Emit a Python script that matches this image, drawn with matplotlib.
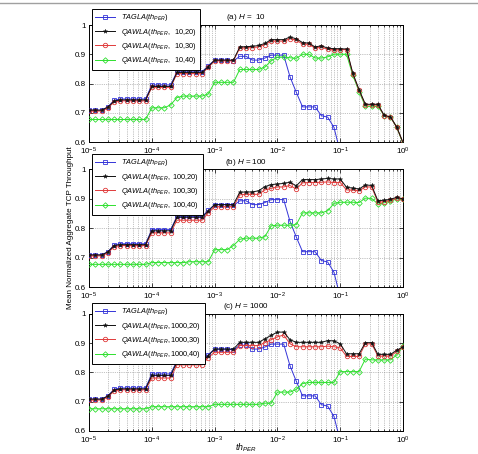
import numpy as np
import matplotlib
matplotlib.use('Agg')
import matplotlib.pyplot as plt
from matplotlib.lines import Line2D
from matplotlib.ticker import FixedLocator, FuncFormatter, LogLocator, NullFormatter

plt.rcParams['font.family'] = ['Liberation Sans', 'DejaVu Sans']
plt.rcParams['mathtext.fontset'] = 'custom'
plt.rcParams['mathtext.rm'] = 'Liberation Sans'
plt.rcParams['mathtext.it'] = 'Liberation Sans:italic'
plt.rcParams['mathtext.bf'] = 'Liberation Sans:bold'

nan = np.nan
th_per = np.logspace(-5, 0, 51)

tagla = [0.709, 0.709, 0.709, 0.720, 0.743, 0.747, 0.747, 0.747, 0.747, 0.747,
         0.795, 0.795, 0.795, 0.795, 0.840, 0.840, 0.840, 0.840, 0.840, 0.861,
         0.880, 0.880, 0.880, 0.877, 0.893, 0.893, 0.880, 0.880, 0.887, 0.897,
         0.897, 0.897, 0.823, 0.770, 0.720, 0.720, 0.720, 0.690, 0.685, 0.650,
         0.565, nan, nan, nan, nan, nan, nan, nan, nan, nan, nan]

# H = 10
q10_20 = [0.709, 0.709, 0.709, 0.719, 0.740, 0.744, 0.744, 0.744, 0.744, 0.744,
          0.790, 0.790, 0.790, 0.790, 0.838, 0.838, 0.838, 0.838, 0.838, 0.858,
          0.880, 0.880, 0.880, 0.880, 0.925, 0.926, 0.927, 0.930, 0.937, 0.950,
          0.950, 0.950, 0.959, 0.953, 0.940, 0.938, 0.925, 0.929, 0.921, 0.919,
          0.919, 0.918, 0.835, 0.779, 0.729, 0.729, 0.729, 0.691, 0.686, 0.651,
          0.598]
q10_30 = [0.706, 0.706, 0.706, 0.716, 0.737, 0.741, 0.741, 0.741, 0.741, 0.741,
          0.787, 0.787, 0.787, 0.787, 0.834, 0.834, 0.834, 0.834, 0.834, 0.855,
          0.878, 0.878, 0.878, 0.878, 0.921, 0.922, 0.923, 0.925, 0.933, 0.945,
          0.945, 0.945, 0.953, 0.948, 0.935, 0.934, 0.921, 0.924, 0.917, 0.915,
          0.916, 0.916, 0.833, 0.777, 0.727, 0.727, 0.727, 0.690, 0.685, 0.650,
          0.597]
q10_40 = [0.677, 0.677, 0.677, 0.677, 0.677, 0.677, 0.677, 0.677, 0.677, 0.677,
          0.717, 0.717, 0.717, 0.727, 0.752, 0.757, 0.757, 0.757, 0.757, 0.764,
          0.804, 0.804, 0.804, 0.804, 0.848, 0.848, 0.848, 0.848, 0.856, 0.878,
          0.890, 0.891, 0.888, 0.886, 0.900, 0.900, 0.887, 0.887, 0.891, 0.900,
          0.900, 0.900, 0.828, 0.772, 0.722, 0.722, 0.722, 0.690, 0.685, 0.650,
          0.594]

# H = 100
q100_20 = [0.709, 0.709, 0.709, 0.719, 0.741, 0.744, 0.744, 0.744, 0.744, 0.744,
           0.791, 0.791, 0.791, 0.791, 0.837, 0.837, 0.837, 0.837, 0.837, 0.858,
           0.880, 0.880, 0.880, 0.880, 0.922, 0.923, 0.923, 0.927, 0.941, 0.948,
           0.950, 0.952, 0.956, 0.944, 0.965, 0.965, 0.965, 0.967, 0.969, 0.967,
           0.967, 0.939, 0.936, 0.933, 0.947, 0.945, 0.893, 0.895, 0.898, 0.905,
           0.899]
q100_30 = [0.706, 0.706, 0.706, 0.716, 0.737, 0.741, 0.741, 0.741, 0.741, 0.741,
           0.784, 0.784, 0.784, 0.784, 0.827, 0.827, 0.827, 0.827, 0.827, 0.852,
           0.873, 0.873, 0.873, 0.873, 0.913, 0.915, 0.915, 0.915, 0.930, 0.935,
           0.940, 0.940, 0.945, 0.933, 0.954, 0.955, 0.955, 0.956, 0.957, 0.955,
           0.955, 0.930, 0.929, 0.927, 0.940, 0.940, 0.888, 0.890, 0.895, 0.902,
           0.899]
q100_40 = [0.677, 0.677, 0.677, 0.677, 0.677, 0.677, 0.677, 0.677, 0.677, 0.677,
           0.683, 0.683, 0.683, 0.683, 0.683, 0.683, 0.686, 0.686, 0.686, 0.686,
           0.727, 0.727, 0.727, 0.741, 0.762, 0.766, 0.766, 0.766, 0.771, 0.808,
           0.810, 0.810, 0.810, 0.812, 0.852, 0.852, 0.852, 0.852, 0.859, 0.884,
           0.888, 0.888, 0.888, 0.887, 0.902, 0.901, 0.882, 0.886, 0.891, 0.900,
           0.898]

# H = 1000
q1000_20 = [0.709, 0.709, 0.709, 0.719, 0.740, 0.744, 0.744, 0.744, 0.744, 0.744,
            0.790, 0.790, 0.790, 0.790, 0.836, 0.836, 0.836, 0.836, 0.836, 0.858,
            0.880, 0.880, 0.880, 0.880, 0.903, 0.903, 0.903, 0.903, 0.915, 0.927,
            0.938, 0.938, 0.912, 0.903, 0.903, 0.903, 0.903, 0.903, 0.909, 0.908,
            0.898, 0.864, 0.864, 0.864, 0.902, 0.902, 0.862, 0.862, 0.862, 0.876,
            0.888]
q1000_30 = [0.706, 0.706, 0.706, 0.716, 0.737, 0.741, 0.741, 0.741, 0.741, 0.741,
            0.781, 0.781, 0.781, 0.781, 0.826, 0.826, 0.826, 0.826, 0.826, 0.851,
            0.869, 0.869, 0.869, 0.869, 0.892, 0.892, 0.892, 0.892, 0.902, 0.912,
            0.922, 0.928, 0.898, 0.888, 0.888, 0.888, 0.888, 0.888, 0.890, 0.888,
            0.884, 0.855, 0.855, 0.855, 0.898, 0.898, 0.856, 0.856, 0.856, 0.872,
            0.887]
q1000_40 = [0.676, 0.676, 0.676, 0.676, 0.676, 0.676, 0.676, 0.676, 0.676, 0.676,
            0.683, 0.683, 0.683, 0.683, 0.683, 0.683, 0.683, 0.683, 0.683, 0.683,
            0.691, 0.691, 0.691, 0.691, 0.691, 0.691, 0.691, 0.691, 0.695, 0.695,
            0.733, 0.733, 0.733, 0.742, 0.762, 0.766, 0.766, 0.766, 0.766, 0.766,
            0.803, 0.803, 0.803, 0.803, 0.846, 0.843, 0.843, 0.843, 0.843, 0.860,
            0.889]

H_values = [10, 100, 1000]
panel_titles = ['(a) $\\it{H}$ =  10', '(b) $\\it{H}$ = 100', '(c) $\\it{H}$ = 1000']
series = [(q10_20, q10_30, q10_40), (q100_20, q100_30, q100_40), (q1000_20, q1000_30, q1000_40)]
y_ticks = [0.6, 0.7, 0.8, 0.9, 1.0]

C_BLUE = '#3434d8'
C_BLACK = '#111111'
C_RED = '#e03a3a'
C_GREEN = '#2ee02e'
FS = 5.8
LFS = 5.3

fig = plt.figure(figsize=(4.78, 4.54), dpi=100)
rects = [[0.1862, 0.6872, 0.657, 0.2577],
         [0.1862, 0.3678, 0.657, 0.2593],
         [0.1862, 0.0507, 0.657, 0.2577]]
leg_tops = [1.137, 1.13, 1.094]

for i, (rect, H, (s20, s30, s40)) in enumerate(zip(rects, H_values, series)):
    ax = fig.add_axes(rect)
    ax.set_xscale('log')
    lw = 0.7
    hb, = ax.plot(th_per, tagla, color=C_BLUE, lw=lw, marker='s', ms=3.0,
                  mfc='none', mec=C_BLUE, mew=0.6, zorder=3)
    hg, = ax.plot(th_per, s40, color=C_GREEN, lw=lw, marker='D', ms=2.8,
                  mfc='none', mec=C_GREEN, mew=0.6, zorder=4)
    hr, = ax.plot(th_per, s30, color=C_RED, lw=lw, marker='o', ms=3.2,
                  mfc='none', mec=C_RED, mew=0.6, zorder=5)
    hk, = ax.plot(th_per, s20, color=C_BLACK, lw=lw, marker='*', ms=3.2,
                  mfc=C_BLACK, mec=C_BLACK, mew=0.3, zorder=6)
    ax.set_xlim(1e-5, 1)
    ax.set_ylim(0.6, 1.0)
    ax.yaxis.set_major_locator(FixedLocator(y_ticks))
    ax.yaxis.set_major_formatter(FuncFormatter(lambda v, p: '%g' % v))
    ax.xaxis.set_major_locator(LogLocator(base=10, numticks=10))
    ax.xaxis.set_minor_locator(LogLocator(base=10, subs=np.arange(2, 10), numticks=100))
    ax.xaxis.set_minor_formatter(NullFormatter())
    ax.grid(True, which='major', axis='both', color='#888888', ls=':', lw=0.5)
    ax.grid(True, which='minor', axis='x', color='#888888', ls=':', lw=0.5)
    ax.tick_params(which='both', direction='in', top=True, right=True,
                   labelsize=FS, width=0.5)
    ax.tick_params(axis='x', which='both', pad=2.6)
    ax.tick_params(axis='y', which='both', pad=2.2)
    ax.tick_params(which='major', length=3)
    ax.tick_params(which='minor', length=1.5)
    for sp in ax.spines.values():
        sp.set_linewidth(0.7)
    ax.set_title(panel_titles[i], fontsize=FS, pad=4)
    labels = ['$\\mathit{TAGLA(th_{PER})}$',
              '$\\mathit{QAWLA(th_{PER}},$' + '%4d,20)' % H,
              '$\\mathit{QAWLA(th_{PER}},$' + '%4d,30)' % H,
              '$\\mathit{QAWLA(th_{PER}},$' + '%4d,40)' % H]
    leg = ax.legend([hb, hk, hr, hg], labels, loc='upper left',
                    bbox_to_anchor=(0.01, leg_tops[i]), fontsize=LFS,
                    frameon=True, fancybox=False, framealpha=1,
                    edgecolor='black', borderpad=0.45, labelspacing=0.45,
                    handlelength=2.7, handletextpad=0.8, borderaxespad=0)
    leg.get_frame().set_linewidth(0.7)
    leg.set_zorder(10)

fig.text(71 / 478, 1 - 228 / 454, 'Mean Normalized Aggregate TCP Throughput',
         rotation=90, ha='center', va='center', fontsize=FS)
fig.text(246 / 478, 1 - 448 / 454, '$\\mathit{th_{PER}}$', ha='center',
         va='center', fontsize=FS + 0.5)
fig.add_artist(Line2D([0, 1], [1 - 3.3 / 454] * 2, color='#a0a0a0', lw=1.0,
                      transform=fig.transFigure))

fig.savefig('out.png', dpi=100)
